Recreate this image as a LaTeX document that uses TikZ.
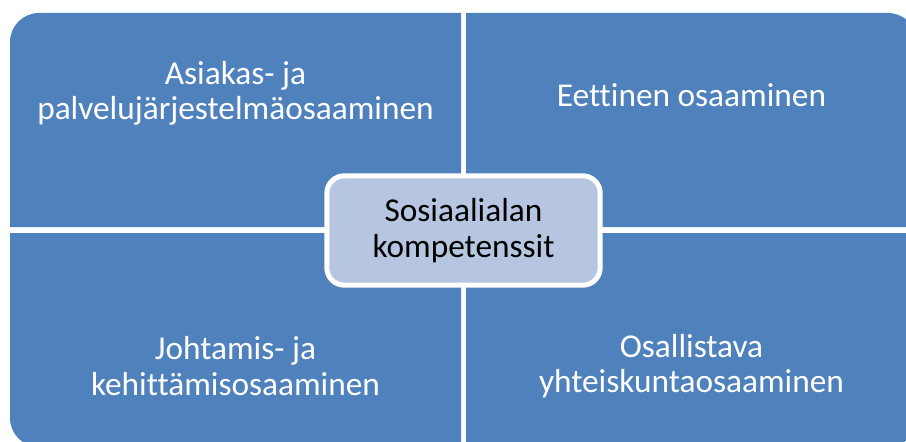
\documentclass[tikz,border=0pt]{standalone}
\usepackage{fontspec}
\setmainfont{Carlito}[Ligatures={NoCommon}]
\usetikzlibrary{positioning}
\definecolor{quadblue}{RGB}{79,129,189}
\definecolor{hubblue}{RGB}{182,197,224}
\tikzset{quad/.style={fill=quadblue}}
\tikzset{lbl/.style={align=center, text=white, font=\fontsize{25}{26.5}\selectfont, inner sep=0pt}}
\tikzset{hub/.style={draw=white, line width=3.75pt, fill=hubblue, rounded corners=13pt, minimum width=205pt, minimum height=82pt, align=center, font=\fontsize{25}{26.5}\selectfont, inner sep=0pt}}

\begin{document}
\begin{tikzpicture}[x=0.75pt, y=-0.75pt]
        \useasboundingbox (0,0) rectangle (906,442);
        \clip (0,0) rectangle (906,442);

        \fill[quad] (10,227) [rounded corners=21.75pt] -- (10,13) [sharp corners] -- (461,13) -- (461,227) -- cycle;
        \fill[quad] (466,13) [rounded corners=21.75pt] -- (917,13) [sharp corners] -- (917,227) -- (466,227) -- cycle;
        \fill[quad] (461,447) [rounded corners=21.75pt] -- (10,447) [sharp corners] -- (10,233) -- (461,233) -- cycle;
        \fill[quad] (917,233) [rounded corners=21.75pt] -- (917,447) [sharp corners] -- (466,447) -- (466,233) -- cycle;

        \node[lbl] (tl) at (235.5,93) {Asiakas- ja\\palvelujärjestelmäosaaminen};
        \node[lbl] (tr) at (691.5,95) {Eettinen osaaminen};
        \node[lbl] (bl) at (235.5,366) {Johtamis- ja\\kehittämisosaaminen};
        \node[lbl] (br) at (691.5,366) {Osallistava\\yhteiskuntaosaaminen};

        \node[hub] (core) at (463.5,230.5) {Sosiaalialan\\kompetenssit};
    \end{tikzpicture}
\end{document}
